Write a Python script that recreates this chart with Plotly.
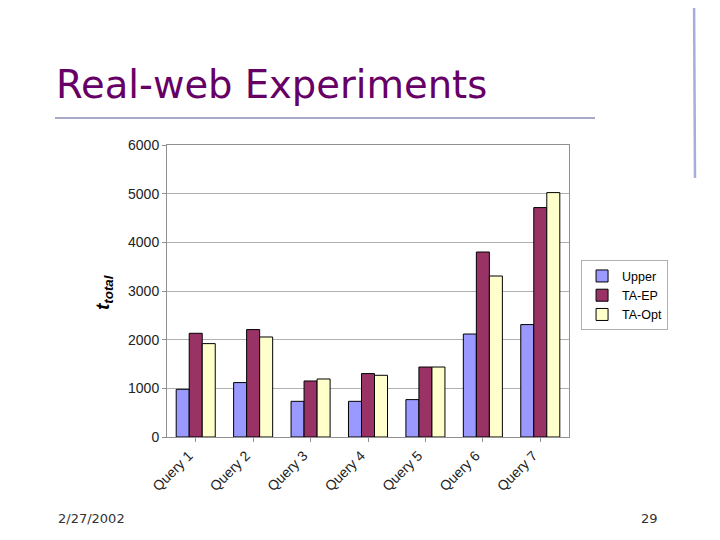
import plotly.graph_objects as go

categories = ["Query 1", "Query 2", "Query 3", "Query 4", "Query 5", "Query 6", "Query 7"]
upper = [980, 1118, 733, 733, 768, 2116, 2310]
ta_ep = [2131, 2207, 1151, 1303, 1438, 3801, 4714]
ta_opt = [1919, 2055, 1192, 1268, 1438, 3308, 5022]
y_ticks = [0, 1000, 2000, 3000, 4000, 5000, 6000]

fig = go.Figure()
for name, vals, col in [("Upper", upper, "#9999FF"), ("TA-EP", ta_ep, "#993366"), ("TA-Opt", ta_opt, "#FFFFCC")]:
    fig.add_trace(go.Bar(x=categories, y=vals, name=name, marker=dict(color=col, line=dict(color="black", width=1))))

# page body adds 8px offset; plot area on screen: x 167-569, y 145-437
fig.update_layout(
    width=720, height=540,
    margin=dict(l=159, r=159, t=137, b=111),
    paper_bgcolor="white", plot_bgcolor="white",
    barmode="group", bargap=0.32, bargroupgap=0,
    font=dict(family="Liberation Sans, Arial", size=13, color="#222"),
    showlegend=True,
    legend=dict(x=1.03, y=0.605, xanchor="left", yanchor="top", bordercolor="#b0b0b0", borderwidth=1,
                bgcolor="white", font=dict(size=12.5, color="black"), itemwidth=30, tracegroupgap=0),
)
fig.update_xaxes(showline=True, linecolor="#909090", mirror=True, tickangle=-45, ticks="outside",
                 ticklen=4, tickcolor="#909090", tickfont=dict(size=14, color="#222"),
                 ticklabelshift=-7)
fig.update_yaxes(range=[0, 6000], tickvals=y_ticks, showgrid=True, gridcolor="#b0b0b0", showline=True,
                 linecolor="#909090", mirror=True, ticks="outside", ticklen=4, tickcolor="#909090",
                 tickfont=dict(size=14, color="#222"), zeroline=False)

fig.add_annotation(text="<b><i>t<sub>total</sub></i></b>", xref="paper", yref="paper", x=(104-167)/402, y=(437-293)/292,
                   xanchor="center", yanchor="middle", textangle=-90, showarrow=False,
                   font=dict(size=19, color="black"))
fig.add_annotation(text="Real-web Experiments", xref="paper", yref="paper", x=(54-167)/402, y=(437-60)/292,
                   xanchor="left", yanchor="top", showarrow=False,
                   font=dict(family="DejaVu Sans", size=38.5, color="#660066"))
fig.add_annotation(text="2/27/2002", xref="paper", yref="paper", x=(56-167)/402, y=(437-509)/292,
                   xanchor="left", yanchor="top", showarrow=False,
                   font=dict(family="DejaVu Sans", size=13, color="#333"))
fig.add_annotation(text="29", xref="paper", yref="paper", x=(660-167)/402, y=(437-509)/292,
                   xanchor="right", yanchor="top", showarrow=False,
                   font=dict(family="DejaVu Sans", size=13, color="#333"))
fig.add_shape(type="line", xref="paper", yref="paper", x0=(55-167)/402, x1=(595-167)/402,
              y0=(437-118)/292, y1=(437-118)/292, line=dict(color="#a8aacc", width=2))
fig.add_shape(type="line", xref="paper", yref="paper", x0=(694-167)/402, x1=(695-167)/402,
              y0=(437+8)/292, y1=(437-178)/292, line=dict(color="#a8acd8", width=2.5))

fig.write_html("out.html")
